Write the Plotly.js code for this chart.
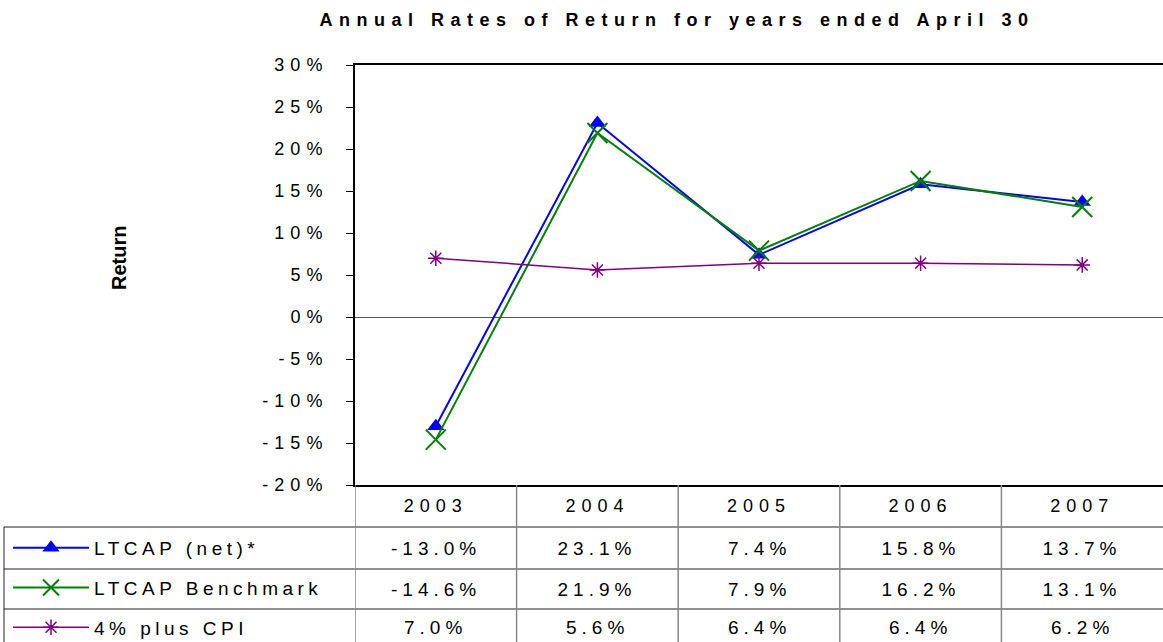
<!DOCTYPE html>
<html><head><meta charset="utf-8">
<script src="https://cdn.plot.ly/plotly-3.0.1.min.js"></script>
<style>
html,body{margin:0;padding:0;background:#fff;}
#chart{width:1163px;height:642px;}
.gtitle{letter-spacing:6.5px;}
.ytick text{letter-spacing:6px;}
.xtick text{letter-spacing:6px;}
.legendtext{letter-spacing:4.5px;}
.annotation:not([data-index="0"]) .annotation-text{letter-spacing:5px;}
</style></head><body><div id="chart"></div>
<script>
// ---- data ----
const years = ['2003', '2004', '2005', '2006', '2007'];
const ltcapNet = [-13.0, 23.1, 7.4, 15.8, 13.7];
const ltcapBenchmark = [-14.6, 21.9, 7.9, 16.2, 13.1];
const cpiPlus4 = [7.0, 5.6, 6.4, 6.4, 6.2];
const seriesNames = ['LTCAP (net)*', 'LTCAP Benchmark', '4% plus CPI'];
const yTickVals = [-20, -15, -10, -5, 0, 5, 10, 15, 20, 25, 30];
const yTickText = yTickVals.map(v => v + '%');
const titleText = 'Annual Rates of Return for years ended April 30';
const yTitle = 'Return';

// ---- layout geometry ----
const W = 1163, H = 642, L = 355, R = 0, T = 65, B = 157;
const plotW = W - L - R, plotH = H - T - B;
const px = p => (p - L) / plotW;          // pixel x -> paper x
const py = p => (H - B - p) / plotH;      // pixel y -> paper y
const FONT = 'Liberation Sans, Arial, sans-serif';

const seriesValues = [ltcapNet, ltcapBenchmark, cpiPlus4];
const styles = [
  {color: '#0000FF', lw: 2, symbol: 'triangle-up', size: 15, mlw: 0},
  {color: '#008000', lw: 2, symbol: 'x-thin-open', size: 20, mlw: 2},
  {color: '#800080', lw: 1.5, symbol: 'asterisk-open', size: 13, mlw: 1.5}
];

const traces = seriesValues.map((vals, k) => ({
  type: 'scatter', mode: 'lines+markers',
  x: years, y: vals, name: seriesNames[k], legendgroup: 'g' + k,
  line: {color: styles[k].color, width: styles[k].lw},
  marker: {symbol: styles[k].symbol, size: styles[k].size, color: styles[k].color,
           line: {color: styles[k].color, width: styles[k].mlw}},
  cliponaxis: false,
  hoverinfo: 'x+y'
}));

const rowCenters = [548, 589, 627];
const annotations = [{
  text: yTitle, xref: 'paper', yref: 'paper', x: px(119), y: py(258),
  textangle: -90, showarrow: false, xanchor: 'center', yanchor: 'middle',
  font: {family: FONT, size: 20, color: '#000', weight: 'bold'}
}];
seriesValues.forEach((vals, k) => {
  vals.forEach((v, i) => {
    annotations.push({
      text: v.toFixed(1) + '%', xref: 'x', yref: 'paper', x: i, y: py(rowCenters[k]),
      showarrow: false, xanchor: 'center', yanchor: 'middle', xshift: 0,
      font: {family: FONT, size: 19, color: '#000'}
    });
  });
});

const shapes = [];
[527, 569, 609].forEach(yy => shapes.push({type: 'line', xref: 'paper', yref: 'paper',
  x0: px(4), x1: 1, y0: py(yy), y1: py(yy), line: {color: '#222', width: 1}}));
shapes.push({type: 'line', xref: 'paper', yref: 'paper', x0: px(4), x1: px(4),
  y0: py(527), y1: py(642), line: {color: '#222', width: 1}});
for (let i = 0; i < years.length; i++) {
  shapes.push({type: 'line', xref: 'x', yref: 'paper', x0: i - 0.5, x1: i - 0.5,
    y0: 0, y1: py(642), line: {color: '#888', width: 1.5}});
}

const layout = {
  width: W, height: H, margin: {l: L, r: R, t: T, b: B, autoexpand: false},
  paper_bgcolor: '#fff', plot_bgcolor: '#fff',
  font: {family: FONT, color: '#000'},
  title: {text: titleText, xref: 'container', yref: 'container', x: 677 / W, y: 1 - 20 / H,
          xanchor: 'center', yanchor: 'middle',
          font: {family: FONT, size: 18, color: '#000', weight: 'bold'}},
  xaxis: {type: 'category', range: [-0.5, 4.5], showgrid: false, zeroline: false,
          showline: true, linecolor: '#000', linewidth: 2, mirror: true,
          ticks: '', ticklabelstandoff: 3,
          tickfont: {family: FONT, size: 18, color: '#000'}},
  yaxis: {range: [-20, 30], tickvals: yTickVals, ticktext: yTickText, showgrid: false,
          zeroline: true, zerolinecolor: '#555', zerolinewidth: 1,
          showline: true, linecolor: '#000', linewidth: 2,
          ticks: 'outside', ticklen: 7, tickcolor: '#000', tickwidth: 1,
          ticklabelstandoff: 14,
          tickfont: {family: FONT, size: 18, color: '#000'}},
  showlegend: true,
  legend: {x: px(8), y: py(529), xanchor: 'left', yanchor: 'top', xref: 'paper', yref: 'paper',
           bgcolor: 'rgba(0,0,0,0)', borderwidth: 0, itemwidth: 76, tracegroupgap: 12,
           font: {family: FONT, size: 19, color: '#000'}},
  annotations: annotations,
  shapes: shapes
};

Plotly.newPlot('chart', traces, layout, {displayModeBar: false, staticPlot: true});
</script></body></html>
